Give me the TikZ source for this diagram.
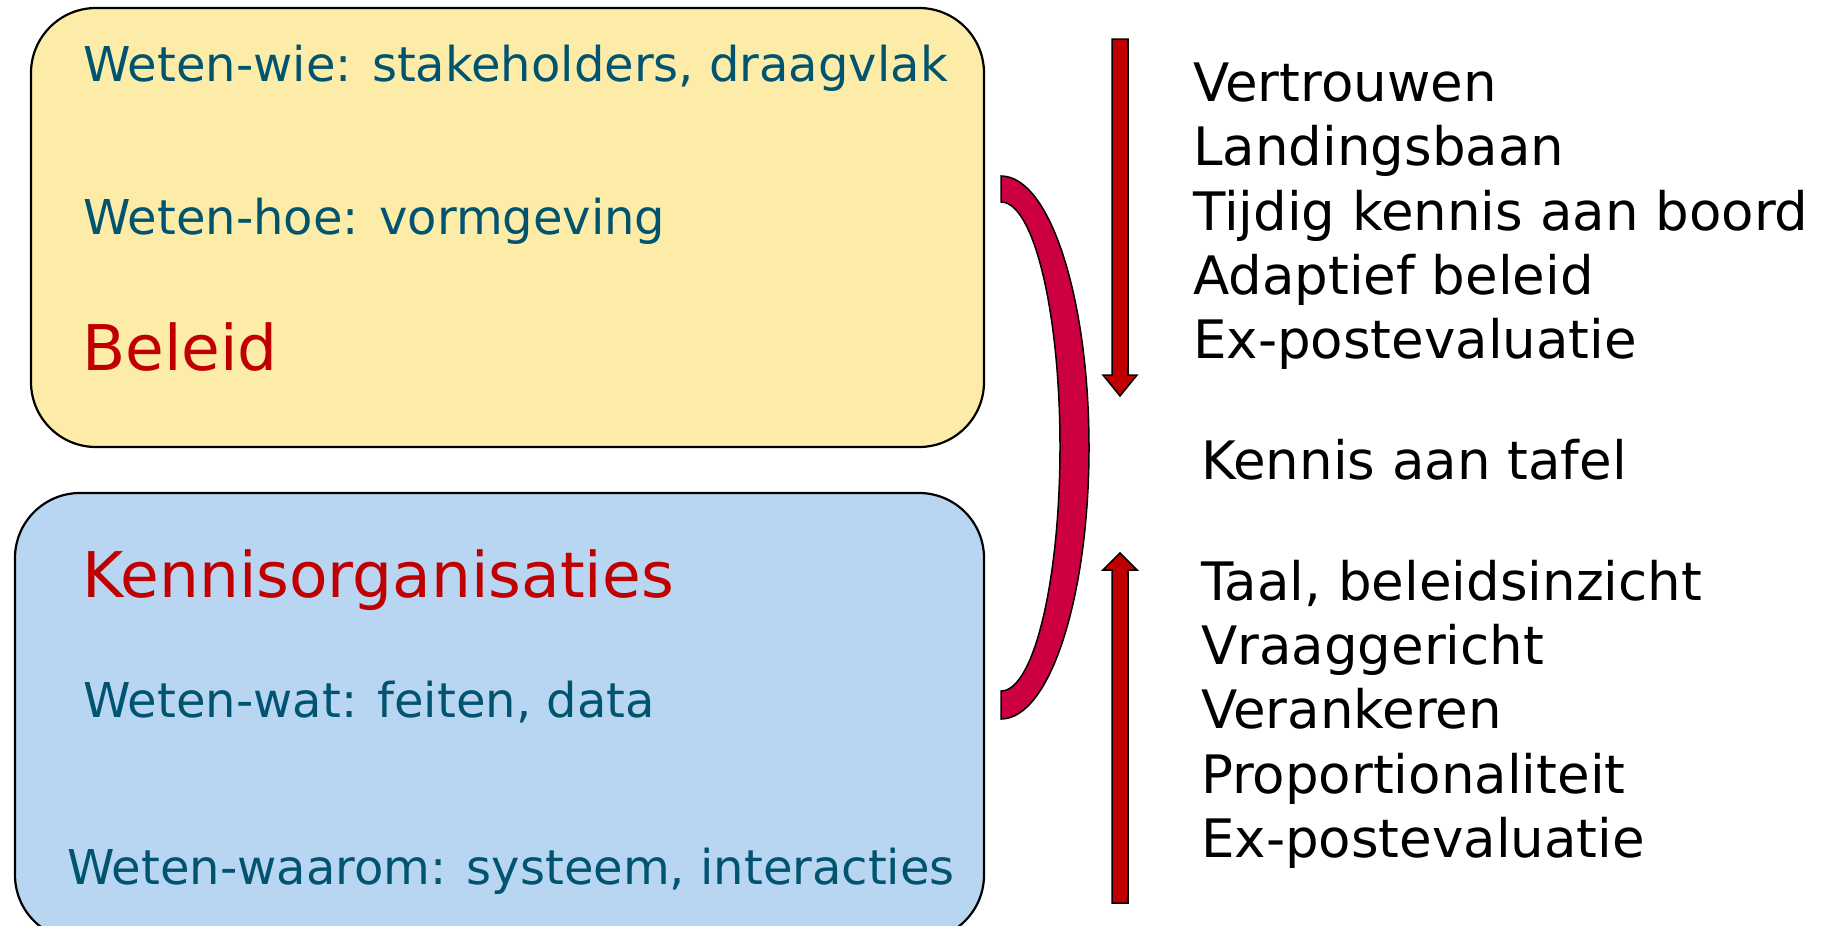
\documentclass[tikz,border=0pt]{standalone}
\usepackage{fontspec}
\setmainfont{DejaVu Sans}
\definecolor{txtblue}{RGB}{0,84,112}
\definecolor{txtred}{RGB}{192,0,0}
\definecolor{yellowfill}{RGB}{253,235,168}
\definecolor{bluefill}{RGB}{184,213,242}
\definecolor{arrowred}{RGB}{192,0,0}
\definecolor{bracketred}{RGB}{204,0,64}
\tikzset{
  panel/.style={draw=black, line width=2.2pt, rounded corners=65pt, inner sep=0pt},
  lefttxt/.style={anchor=base west, inner sep=0pt, text=txtblue, font=\fontsize{48}{58}\selectfont},
  headtxt/.style={anchor=base west, inner sep=0pt, text=txtred, font=\fontsize{63}{75}\selectfont},
  righttxt/.style={anchor=base west, inner sep=0pt, text=black, font=\fontsize{53}{63}\selectfont},
  blockarrow/.style={fill=arrowred, draw=black, line width=1.5pt, line join=miter},
  bracket/.style={fill=bracketred, draw=black, line width=1.5pt}
}
\begin{document}
\begin{tikzpicture}[x=1pt,y=-1pt]
\useasboundingbox (0,0) rectangle (1836,926);
\clip (0,0) rectangle (1836,926);
% panels
\node[panel, fill=yellowfill, minimum width=953, minimum height=439] (beleidbox) at (507.5,227.5) {};
\node[panel, fill=bluefill, minimum width=969, minimum height=447] (kennisbox) at (499.5,716.5) {};
% left texts
\node[lefttxt] (wie) at (83,81) {Weten-wie: stakeholders, draagvlak};
\node[lefttxt] (hoe) at (83,234) {Weten-hoe: vormgeving};
\node[headtxt] (beleid) at (82,370) {Beleid};
\node[headtxt] (kennis) at (82,597) {Kennisorganisaties};
\node[lefttxt] (wat) at (83,717) {Weten-wat: feiten, data};
\node[lefttxt] (waarom) at (67,884) {Weten-waarom: systeem, interacties};
% bracket
\coordinate (bt) at (1001,176);
\draw[bracket] (bt) arc[start angle=-90, end angle=90, x radius=88, y radius=271.5]
  -- ++(0,-28) arc[start angle=90, end angle=-90, x radius=59, y radius=244.5] -- cycle;
% down arrow
\coordinate (dtop) at (1120,39);
\coordinate (dtip) at (1120,396);
\draw[blockarrow] ([xshift=-8]dtop) -- ([xshift=8]dtop) -- (1128,375) -- (1137,375) -- (dtip)
  -- (1103,375) -- (1112,375) -- cycle;
% up arrow
\coordinate (ubot) at (1120,903);
\coordinate (utip) at (1120,553);
\draw[blockarrow] ([xshift=-8]ubot) -- ([xshift=8]ubot) -- (1128,570) -- (1137,570) -- (utip)
  -- (1103,570) -- (1112,570) -- cycle;
% right texts
\node[righttxt] (r1) at (1193,101) {Vertrouwen};
\node[righttxt] (r2) at (1193,165) {Landingsbaan};
\node[righttxt] (r3) at (1193,230) {Tijdig kennis aan boord};
\node[righttxt] (r4) at (1193,294) {Adaptief beleid};
\node[righttxt] (r5) at (1193,358) {Ex-postevaluatie};
\node[righttxt] (tafel) at (1201,479) {Kennis aan tafel};
\node[righttxt] (s1) at (1201,600) {Taal, beleidsinzicht};
\node[righttxt] (s2) at (1201,664) {Vraaggericht};
\node[righttxt] (s3) at (1201,728) {Verankeren};
\node[righttxt] (s4) at (1201,793) {Proportionaliteit};
\node[righttxt] (s5) at (1201,857) {Ex-postevaluatie};
\end{tikzpicture}
\end{document}
